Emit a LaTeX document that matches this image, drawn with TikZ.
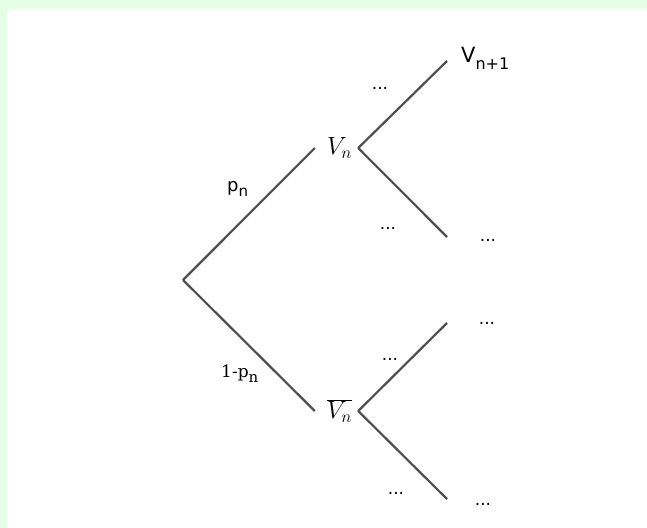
\documentclass[tikz,border=0pt]{standalone}
\usepackage{fontspec}
\newfontfamily\dv{DejaVu Sans}
\newfontfamily\dvs{DejaVu Serif}
\definecolor{bgframe}{HTML}{E6FDE6}
\definecolor{linec}{HTML}{4F4F4F}
\begin{document}
\begin{tikzpicture}[x=1pt,y=-1pt,
  branch/.style={draw=linec,line width=2.2pt},
  vnode/.style={inner sep=0pt,minimum width=43pt,minimum height=20pt,font=\fontsize{23}{23}\selectfont},
  dots/.style={inner sep=0pt,font=\dv\fontsize{17}{17}\selectfont},
  lab/.style={inner sep=0pt,anchor=base west}]
\useasboundingbox (0,0) rectangle (647,527);
\fill[bgframe] (-5,-5) rectangle (660,540);
\fill[white] (7,9) rectangle (660,540);
\coordinate (root) at (183,280);
\node[vnode] (vn) at (336.5,148) {\hspace*{6pt}$V_n$};
\node[vnode] (vb) at (336.5,411) {\hspace*{6pt}$\overline{V_n}$};
\coordinate (a1) at (447,61);
\coordinate (a2) at (447,237);
\coordinate (b1) at (447,323);
\coordinate (b2) at (447,499);
\draw[branch] (root) -- (vn.west);
\draw[branch] (root) -- (vb.west);
\draw[branch] (vn.east) -- (a1);
\draw[branch] (vn.east) -- (a2);
\draw[branch] (vb.east) -- (b1);
\draw[branch] (vb.east) -- (b2);
\node[lab,font=\dv\fontsize{21}{21}\selectfont] (vnp) at (461,63) {V\raisebox{-6pt}{\fontsize{16}{16}\selectfont n+1}};
\node[lab,font=\dv\fontsize{18}{18}\selectfont] (pn) at (227,191) {p\raisebox{-5pt}{\fontsize{15}{15}\selectfont n}};
\node[lab,font=\dvs\fontsize{17}{17}\selectfont] (qn) at (221,377) {1-p\raisebox{-5pt}{\fontsize{15}{15}\selectfont n}};
\node[dots] (d1) at (380,88) {...};
\node[dots] (d2) at (388,228) {...};
\node[dots] (d3) at (488,240) {...};
\node[dots] (d4) at (487,323) {...};
\node[dots] (d5) at (390,359) {...};
\node[dots] (d6) at (396,493) {...};
\node[dots] (d7) at (483,504) {...};
\end{tikzpicture}
\end{document}
